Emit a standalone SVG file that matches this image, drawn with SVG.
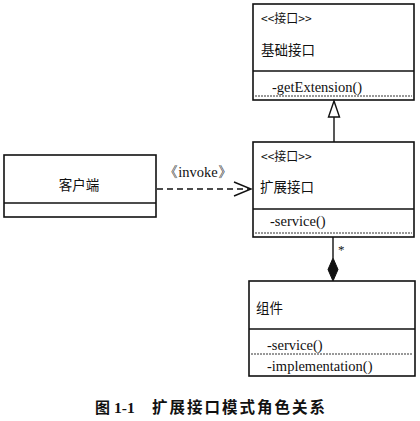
<svg xmlns="http://www.w3.org/2000/svg" width="420" height="421" viewBox="0 0 420 421">
<style>
.box{fill:#fff;stroke:#111;stroke-width:1.6}
.ln{stroke:#111;stroke-width:1.4;fill:none}
.dot{stroke:#333;stroke-width:1;stroke-dasharray:2,1;fill:none}
.cn{font-family:"Noto Sans CJK SC","Noto Sans",sans-serif;fill:#111}
.lt{font-family:"Liberation Serif",serif;fill:#111}
.m{font-size:14.5px}
</style>
<rect width="420" height="421" fill="#fff"/>
<g id="base-interface">
<rect class="box" x="253" y="4" width="161" height="96"/>
<line class="ln" x1="253" y1="71" x2="414" y2="71"/>
<line class="dot" x1="255" y1="96" x2="412" y2="96"/>
<text class="cn" x="261" y="23" font-size="12">&lt;&lt;接口&gt;&gt;</text>
<text class="cn" x="261" y="55" font-size="13.5">基础接口</text>
<text class="lt m" x="272" y="92">-getExtension()</text>
</g>
<g id="ext-interface">
<rect class="box" x="253" y="142" width="161" height="95"/>
<line class="ln" x1="253" y1="209" x2="414" y2="209"/>
<line class="dot" x1="255" y1="233" x2="412" y2="233"/>
<text class="cn" x="261" y="161" font-size="12">&lt;&lt;接口&gt;&gt;</text>
<text class="cn" x="260" y="192" font-size="13.5">扩展接口</text>
<text class="lt m" x="270" y="226">-service()</text>
</g>
<g id="component">
<rect class="box" x="249" y="281" width="166" height="95"/>
<line class="ln" x1="249" y1="329" x2="415" y2="329"/>
<line class="dot" x1="251" y1="354" x2="413" y2="354"/>
<text class="cn" x="256" y="313" font-size="13.5">组件</text>
<text class="lt m" x="267" y="350">-service()</text>
<text class="lt m" x="267" y="371">-implementation()</text>
</g>
<g id="client">
<rect class="box" x="4" y="155" width="152" height="62"/>
<line class="ln" x1="4" y1="203" x2="156" y2="203"/>
<text class="cn" x="79" y="190" font-size="13.5" text-anchor="middle">客户端</text>
</g>
<g id="connectors">
<line class="ln" x1="334" y1="117" x2="334" y2="142"/>
<polygon points="334,101 328.5,117 339.5,117" fill="#fff" stroke="#111" stroke-width="1.4"/>
<line class="ln" x1="333" y1="237" x2="333" y2="258"/>
<polygon points="333,258 338,269.5 333,281 328,269.5" fill="#111" stroke="#111" stroke-width="1"/>
<text class="lt" x="338" y="254" font-size="13">*</text>
<line class="ln" x1="157" y1="189" x2="250" y2="189" stroke-dasharray="6,4"/>
<polyline class="ln" points="234,182 251,189 234,196"/>
<text class="lt" x="198" y="177" font-size="14.5" text-anchor="middle">《invoke》</text>
</g>
<g id="caption">
<text class="cn" x="95" y="413" font-size="15" font-weight="bold">图</text>
<text class="lt" x="114" y="413" font-size="15.5" font-weight="bold">1-1</text>
<text class="cn" x="152" y="413" font-size="15.5" font-weight="bold" textLength="173" lengthAdjust="spacing">扩展接口模式角色关系</text>
</g>
</svg>
